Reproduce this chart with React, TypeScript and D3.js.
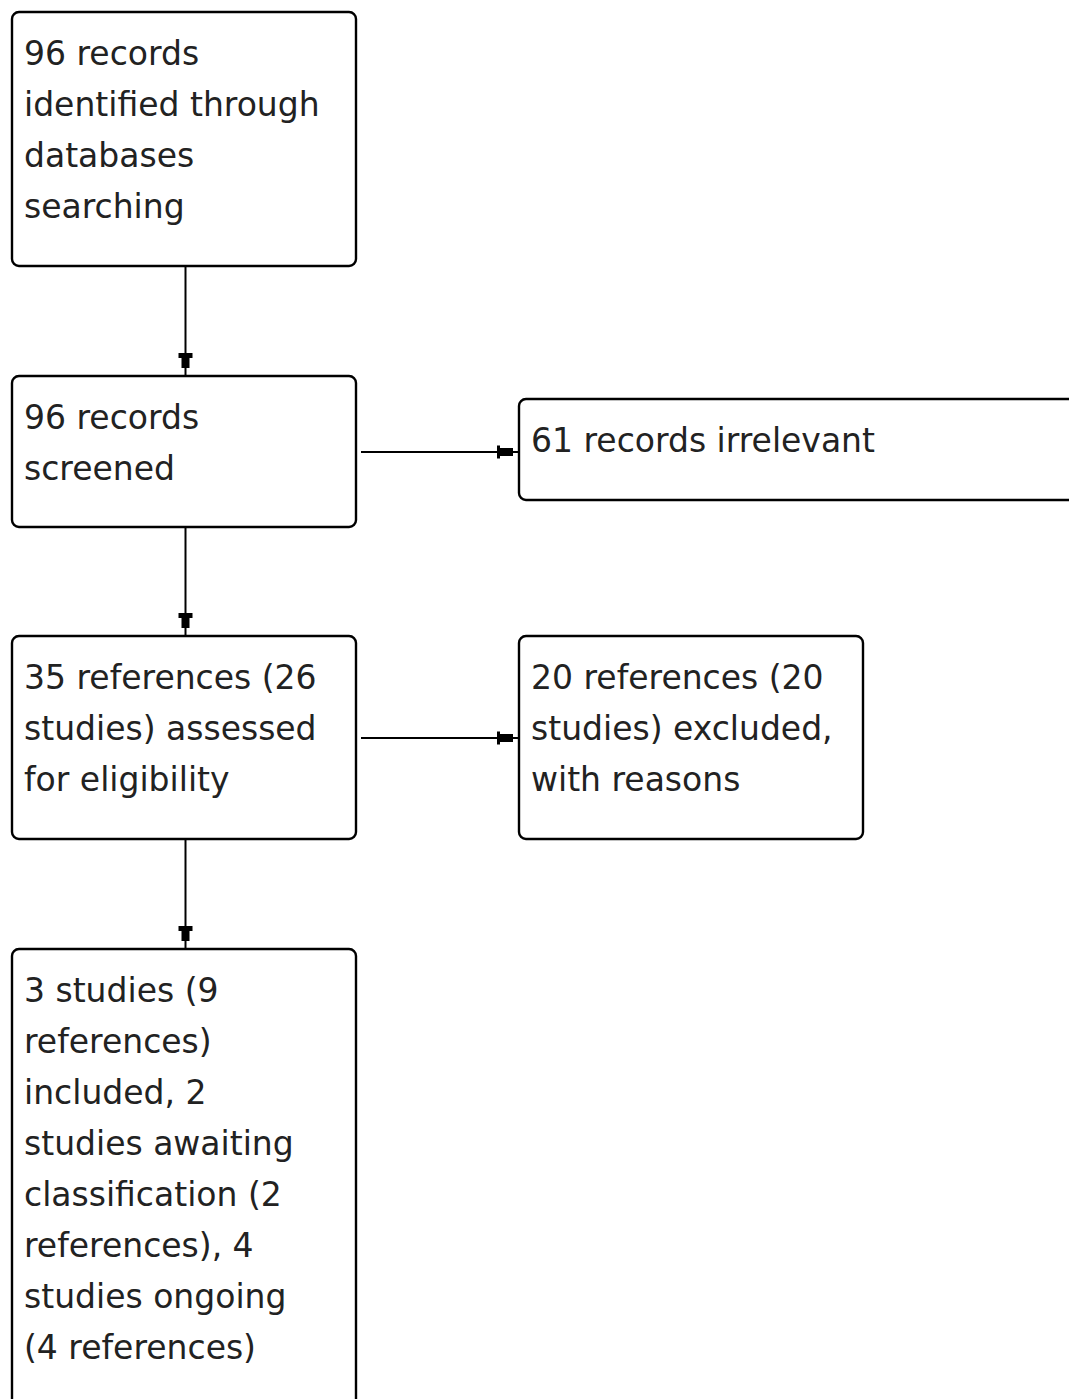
import React from "react";
import * as d3 from "d3";

// flow boxes: id, column, top, bottom, text lines
const boxIds = ["identified", "screened", "assessed", "included", "irrelevant", "excluded"];
const boxLines: string[][] = [
  ["96 records", "identified through", "databases", "searching"],
  ["96 records", "screened"],
  ["35 references (26", "studies) assessed", "for eligibility"],
  ["3 studies (9", "references)", "included, 2", "studies awaiting", "classification (2", "references), 4", "studies ongoing", "(4 references)"],
  ["61 records irrelevant"],
  ["20 references (20", "studies) excluded,", "with reasons"],
];
const boxColumn = [0, 0, 0, 0, 1, 1];
const boxTop = [12, 376, 636, 949, 399, 636];
const boxBottom = [266, 527, 839, 1420, 500, 839];

// links between boxes: [from, to]
const links: [string, string][] = [
  ["identified", "screened"],
  ["screened", "assessed"],
  ["assessed", "included"],
  ["screened", "irrelevant"],
  ["assessed", "excluded"],
];

const W = 1069;
const H = 1399;
const colX = [12, 519];
const colW = [344, 344];
const rightWide = 570;
const lineH = 51;
const font = "'DejaVu Sans', sans-serif";
const fontSize = 33;

function arrowDown(x: number, y: number) {
  const p = d3.path();
  p.moveTo(x - 7, y - 23);
  p.lineTo(x + 7, y - 23);
  p.lineTo(x + 7, y - 18);
  p.lineTo(x + 4, y - 18);
  p.lineTo(x + 4, y - 8);
  p.lineTo(x - 4, y - 8);
  p.lineTo(x - 4, y - 18);
  p.lineTo(x - 7, y - 18);
  p.closePath();
  return p.toString();
}

function arrowRight(x: number, y: number) {
  const p = d3.path();
  p.moveTo(x - 22, y - 6.5);
  p.lineTo(x - 22, y + 6.5);
  p.lineTo(x - 19, y + 6.5);
  p.lineTo(x - 19, y + 4);
  p.lineTo(x - 6, y + 4);
  p.lineTo(x - 6, y - 4);
  p.lineTo(x - 19, y - 4);
  p.lineTo(x - 19, y - 6.5);
  p.closePath();
  return p.toString();
}

export default function App() {
  const boxes = boxIds.map((id, i) => {
    const x = colX[boxColumn[i]];
    const w = id === "irrelevant" ? rightWide : colW[boxColumn[i]];
    return { id, x, y: boxTop[i], w, h: boxBottom[i] - boxTop[i], lines: boxLines[i] };
  });
  const byId = new Map(boxes.map((b) => [b.id, b]));

  return (
    <div style={{ position: "absolute", left: 0, top: 0 }}>
      <svg width={W} height={H} viewBox={`0 0 ${W} ${H}`} style={{ display: "block", background: "#fff" }}>
        {links.map(([a, b]) => {
          const s = byId.get(a)!;
          const t = byId.get(b)!;
          if (s.x === t.x) {
            const x = s.x + 173.5;
            const y1 = s.y + s.h;
            const y2 = t.y;
            return (
              <g key={a + b}>
                <line x1={x} y1={y1} x2={x} y2={y2} stroke="#000" strokeWidth={2} />
                <path d={arrowDown(x, y2)} fill="#000" />
              </g>
            );
          }
          const y = a === "screened" ? 452 : 738;
          const x1 = s.x + s.w + 5;
          const x2 = t.x;
          return (
            <g key={a + b}>
              <line x1={x1} y1={y} x2={x2} y2={y} stroke="#000" strokeWidth={2} />
              <path d={arrowRight(x2, y)} fill="#000" />
            </g>
          );
        })}
        {boxes.map((b) => (
          <g key={b.id}>
            <rect x={b.x} y={b.y} width={b.w} height={b.h} rx={7} ry={7} fill="#fff" stroke="#000" strokeWidth={2.4} />
            {b.lines.map((l, j) => (
              <text
                key={j}
                x={b.x + 12}
                y={b.y + 53 + j * lineH}
                fontFamily={font}
                fontSize={fontSize}
                fill="#222"
              >
                {l}
              </text>
            ))}
          </g>
        ))}
      </svg>
    </div>
  );
}
